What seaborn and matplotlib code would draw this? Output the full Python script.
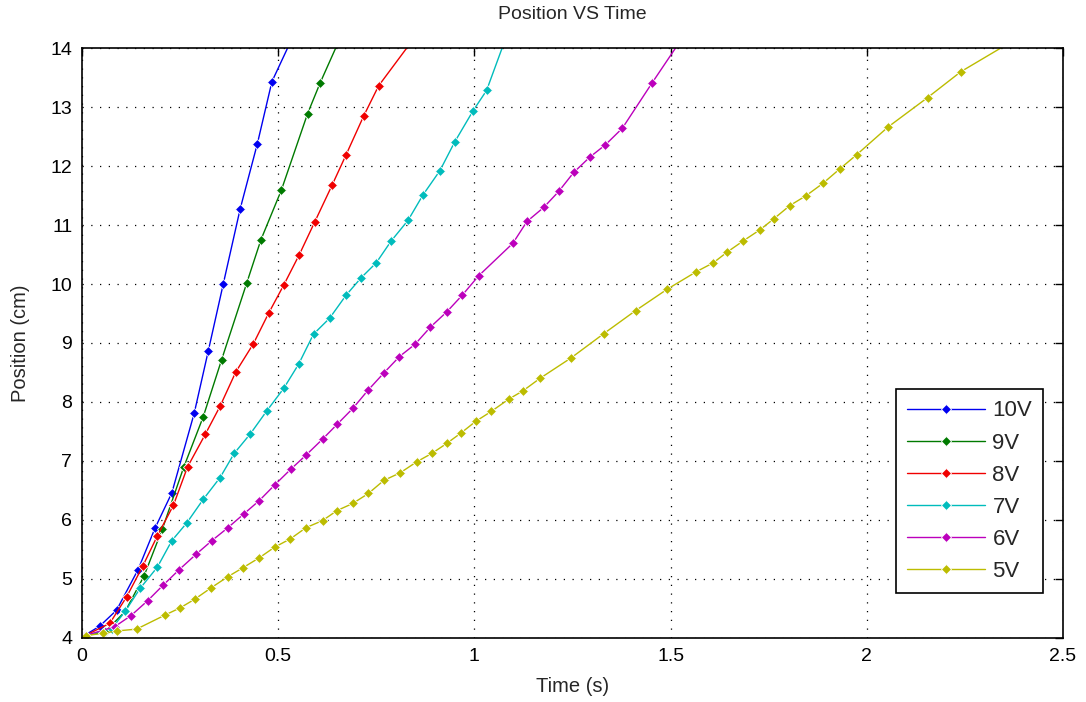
import matplotlib
matplotlib.use("Agg")
import matplotlib.pyplot as plt
import seaborn as sns
import pandas as pd

labels = ["10V", "9V", "8V", "7V", "6V", "5V"]
colors = ["#0000f0", "#007a00", "#f00000", "#00bcbc", "#bc00bc", "#bcbc00"]

t10 = [0.008, 0.045, 0.088, 0.143, 0.186, 0.229, 0.286, 0.322, 0.360, 0.403, 0.447, 0.484, 0.545]
y10 = [4.05, 4.20, 4.47, 5.16, 5.86, 6.46, 7.81, 8.87, 10.00, 11.27, 12.38, 13.43, 14.30]

t9 = [0.008, 0.058, 0.110, 0.158, 0.205, 0.259, 0.309, 0.356, 0.420, 0.456, 0.508, 0.575, 0.607, 0.660]
y9 = [4.04, 4.10, 4.45, 5.05, 5.85, 6.89, 7.75, 8.72, 10.02, 10.75, 11.59, 12.89, 13.41, 14.20]

t8 = [0.008, 0.071, 0.114, 0.155, 0.192, 0.233, 0.269, 0.314, 0.352, 0.392, 0.437, 0.476,
      0.514, 0.554, 0.593, 0.637, 0.673, 0.718, 0.756, 0.850]
y8 = [4.04, 4.25, 4.70, 5.22, 5.73, 6.25, 6.90, 7.45, 7.93, 8.51, 8.99, 9.51,
      9.98, 10.50, 11.05, 11.67, 12.19, 12.85, 13.36, 14.20]

t7 = [0.008, 0.076, 0.110, 0.148, 0.192, 0.229, 0.267, 0.309, 0.352, 0.388, 0.429, 0.471,
      0.514, 0.552, 0.590, 0.631, 0.673, 0.712, 0.750, 0.788, 0.831, 0.869, 0.912, 0.950,
      0.997, 1.031, 1.090]
y7 = [4.04, 4.16, 4.45, 4.84, 5.20, 5.65, 5.95, 6.35, 6.72, 7.13, 7.46, 7.85,
      8.23, 8.64, 9.15, 9.42, 9.81, 10.11, 10.36, 10.73, 11.08, 11.51, 11.92, 12.41,
      12.94, 13.28, 14.35]

t6 = [0.008, 0.083, 0.125, 0.167, 0.206, 0.248, 0.291, 0.331, 0.372, 0.412, 0.452, 0.492,
      0.532, 0.571, 0.613, 0.650, 0.690, 0.729, 0.769, 0.809, 0.849, 0.888, 0.930, 0.969,
      1.011, 1.098, 1.134, 1.177, 1.215, 1.253, 1.294, 1.334, 1.377, 1.452, 1.540]
y6 = [4.04, 4.19, 4.38, 4.63, 4.89, 5.16, 5.42, 5.65, 5.87, 6.10, 6.33, 6.60,
      6.86, 7.10, 7.37, 7.62, 7.89, 8.20, 8.49, 8.77, 8.98, 9.27, 9.53, 9.81,
      10.14, 10.69, 11.06, 11.30, 11.57, 11.89, 12.15, 12.36, 12.64, 13.40, 14.27]

t5 = [0.010, 0.054, 0.090, 0.139, 0.212, 0.250, 0.288, 0.329, 0.372, 0.410,
      0.452, 0.491, 0.531, 0.571, 0.613, 0.650, 0.690, 0.730, 0.769, 0.811,
      0.854, 0.892, 0.930, 0.967, 1.003, 1.043, 1.088, 1.124, 1.167, 1.247,
      1.330, 1.411, 1.491, 1.566, 1.609, 1.644, 1.685, 1.728, 1.764, 1.804,
      1.846, 1.889, 1.931, 1.974, 2.054, 2.155, 2.240, 2.400]
y5 = [4.04, 4.08, 4.12, 4.15, 4.39, 4.51, 4.66, 4.85, 5.04, 5.19,
      5.36, 5.54, 5.68, 5.87, 5.99, 6.16, 6.28, 6.45, 6.67, 6.80,
      6.99, 7.13, 7.30, 7.48, 7.67, 7.84, 8.05, 8.19, 8.40, 8.75,
      9.16, 9.55, 9.91, 10.21, 10.36, 10.54, 10.73, 10.92, 11.11, 11.33,
      11.50, 11.71, 11.95, 12.19, 12.66, 13.16, 13.60, 14.23]

x_ticks = [0, 0.5, 1, 1.5, 2, 2.5]
x_tick_labels = ["0", "0.5", "1", "1.5", "2", "2.5"]
y_ticks = [4, 5, 6, 7, 8, 9, 10, 11, 12, 13, 14]

sns.set_style("white")
plt.rcParams["font.family"] = ["Liberation Sans", "DejaVu Sans"]

series = [(t10, y10), (t9, y9), (t8, y8), (t7, y7), (t6, y6), (t5, y5)]
frames = []
for lab, (tt, yy) in zip(labels, series):
    frames.append(pd.DataFrame({"Time": tt, "Position": yy, "Voltage": lab}))
df = pd.concat(frames, ignore_index=True)

fig = plt.figure(figsize=(10.86, 7.02), dpi=100)
ax = fig.add_axes([0.0755, 0.0912, 0.9033, 0.8404])

sns.lineplot(data=df, x="Time", y="Position", hue="Voltage", hue_order=labels,
             palette=colors, marker="D", markersize=5, markeredgewidth=0.6,
             linewidth=1.0, sort=False, estimator=None, ax=ax, legend=True)

ax.set_xlim(0, 2.5)
ax.set_ylim(4, 14)
ax.set_xticks(x_ticks)
ax.set_xticklabels(x_tick_labels)
ax.set_yticks(y_ticks)
ax.tick_params(direction="in", top=True, right=True, length=6, width=1,
               labelsize=14, colors="black", pad=7)
ax.grid(True, color="black", linestyle=(0, (1, 6)), linewidth=0.9)
for sp in ax.spines.values():
    sp.set_color("black")
    sp.set_linewidth(1.2)
    sp.set_visible(True)

ax.set_xlabel("Time (s)", fontsize=14.5, labelpad=9)
ax.set_ylabel("Position (cm)", fontsize=14.5, labelpad=15)
ax.set_title("Position VS Time", fontsize=14, pad=21)

handles, lbls = ax.get_legend_handles_labels()
leg = ax.legend(handles, lbls, loc="lower right", bbox_to_anchor=(0.98, 0.076),
                borderaxespad=0, fancybox=False, framealpha=1, edgecolor="black",
                fontsize=16, handlelength=3.5, handletextpad=0.35,
                labelspacing=0.5, borderpad=0.5, title=None)
leg.get_frame().set_linewidth(1.2)

fig.savefig("out.png", dpi=100)
